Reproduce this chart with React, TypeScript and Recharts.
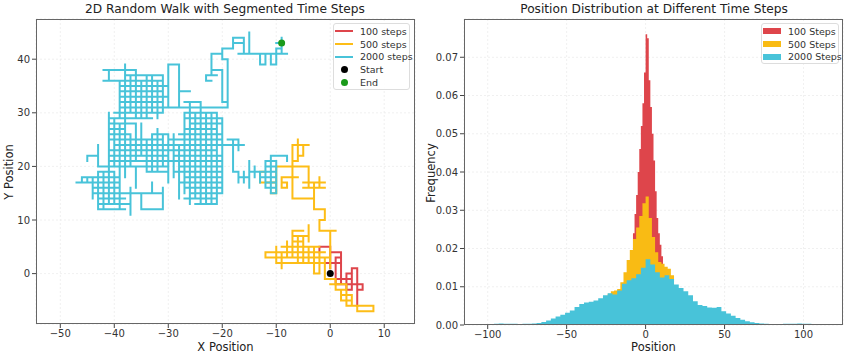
import React from 'react';
import { ComposedChart, Line, Scatter, Area, XAxis, YAxis, CartesianGrid } from 'recharts';

// walk segments: H = [y, x1, x2], V = [x, y1, y2]
type Seg = [number, number, number];

const RED_H: Seg[] = [
    [5, -2, 0], [4, 0, 2], [3, 1, 2], [2, -1, 2], [-1, 1, 4], [-2, 1, 6], [1, 4, 5], [0, 3, 4], [-3, 5, 6], [-3, 3, 4],
];
const RED_V: Seg[] = [
    [-2, 4, 5], [0, 1, 5], [2, -2, 4], [1, -2, 3], [3, -3, 0], [4, -3, 1], [5, -6, 1], [6, -3, -2],
];

const YELLOW_H: Seg[] = [
    [24, -7, -4], [22, -6, -5], [21, -7, -6], [20, -10, -4], [19, -13, -12], [18, -9, -6], [17, -13, -10],
    [17, -9, -8], [16, -9, -8], [17, -5, -1], [16, -5, -1], [15, -11, -10], [14, -7, -3], [12, -3, -1],
    [10, -2, -1], [8, -2, 1], [8, -7, -5], [7, -7, -4], [6, -7, -5], [5, -9, -2], [4, -12, -1], [3, -12, 0],
    [2, -10, -1], [0, -3, -2], [-1, -1, 1], [-2, 0, 3], [-3, 1, 3], [-4, 2, 4], [-5, 2, 4], [-6, 3, 8], [-7, 5, 8],
];
const YELLOW_V: Seg[] = [
    [-6, 21, 25], [-7, 20, 24], [-5, 22, 24], [-4, 16, 20], [-7, 14, 20], [-10, 15, 20], [-13, 17, 19],
    [-9, 16, 18], [-8, 16, 17], [-3, 12, 17], [-2, 16, 18], [-1, 10, 12], [-2, 8, 10], [0, 1, 8], [-4, 6, 9],
    [-12, 3, 4], [-10, 2, 5], [-9, 1, 4], [-8, 3, 6], [-7, 3, 8], [-6, 2, 7], [-5, 2, 7], [-4, 2, 5],
    [-3, 0, 5], [-2, 0, 4], [-1, -1, 3], [1, -3, -1], [2, -5, -3], [3, -6, -2], [4, -6, -4], [5, -7, -6], [8, -7, -6],
];

const CYAN_H: Seg[] = [
    // upper arm
    [40, -20, -19], [42, -20, -18], [44, -18, -16], [43, -18, -16], [41, -17, -8], [39, -13, -12], [39, -11, -10],
    [42, -10, -9], [43, -10, -9], [41, -22, -20], [38, -22, -20], [37, -23, -21], [36, -23, -22], [32, -20, -19],
    [38, -42, -36], [36, -42, -39], [39, -30, -28], [34, -28, -26], [32, -27, -24],
    // upper-left block
    [37, -38, -31], [36, -39, -31], [35, -39, -30], [34, -39, -31], [33, -39, -30], [32, -39, -31], [31, -39, -19],
    [30, -40, -31], [29, -41, -33],
    // middle-left block
    [28, -41, -36], [27, -41, -38], [26, -41, -37], [26, -33, -30], [25, -41, -31], [24, -40, -30], [23, -41, -30],
    [22, -41, -30], [21, -41, -30], [20, -43, -30], [22, -45, -43],
    // right block
    [30, -27, -21], [29, -27, -20], [28, -26, -20], [27, -27, -21], [26, -28, -20], [25, -30, -20], [24, -30, -16],
    [23, -30, -21], [22, -29, -20], [21, -30, -20], [20, -28, -20], [19, -29, -20], [18, -27, -20], [17, -28, -20],
    [16, -27, -20], [15, -26, -20], [14, -27, -21], [13, -25, -21],
    // lower-left block
    [19, -43, -40], [19, -34, -30], [18, -46, -39], [17, -47, -39], [16, -44, -39], [15, -44, -31], [14, -43, -38],
    [13, -43, -37], [12, -43, -38], [12, -35, -31], [20, -39, -38],
    // link towards the 500-step part
    [25, -19, -17], [19, -18, -17], [18, -17, -15], [19, -15, -12], [21, -12, -10], [20, -12, -10], [19, -12, -10],
    [18, -13, -10], [17, -12, -10], [16, -12, -10], [15, -11, -10], [22, -11, -8],
];
const CYAN_V: Seg[] = [
    [-19, 31, 40], [-20, 40, 42], [-18, 42, 44], [-16, 41, 44], [-15, 41, 45], [-13, 39, 41], [-12, 39, 41],
    [-11, 39, 41], [-10, 39, 42], [-9, 41, 44], [-22, 37, 41], [-23, 36, 37], [-20, 32, 38],
    [-38, 37, 39], [-41, 36, 38], [-30, 31, 39], [-28, 31, 39],
    [-39, 29, 36], [-38, 29, 37], [-37, 30, 37], [-36, 29, 38], [-35, 29, 36], [-34, 29, 37], [-33, 30, 37],
    [-32, 29, 36], [-31, 30, 37],
    [-41, 13, 30], [-40, 20, 29], [-39, 20, 28], [-38, 20, 29], [-37, 20, 26], [-36, 21, 28], [-35, 22, 28],
    [-34, 19, 25], [-33, 19, 26], [-32, 19, 27], [-31, 20, 26], [-43, 20, 24], [-45, 21, 22],
    [-30, 17, 26], [-29, 18, 26], [-28, 14, 24], [-27, 15, 30], [-26, 13, 32], [-25, 14, 30], [-24, 13, 32],
    [-23, 13, 30], [-22, 13, 30], [-21, 13, 30], [-20, 15, 29],
    [-46, 17, 18], [-45, 17, 18], [-44, 14, 18], [-43, 12, 19], [-42, 12, 19], [-40, 13, 19], [-39, 12, 20],
    [-38, 18, 20], [-37, 11, 16], [-35, 12, 15], [-31, 12, 16], [-33, 15, 17], [-36, 16, 20],
    [-18, 19, 25], [-17, 23, 25], [-17, 17, 19], [-16, 17, 19], [-15, 16, 21], [-14, 18, 20], [-13, 17, 19],
    [-12, 16, 21], [-11, 15, 22], [-10, 15, 21], [-8, 21, 22],
];

const START = [{ x: 0, y: 0 }];
const END = [{ x: -9, y: 43 }];

// histogram heights (density), left bin edge + width
const RED_START = -10, RED_WIDTH = 1;
const RED_FREQ = [0.014, 0.018, 0.024, 0.029, 0.034, 0.040, 0.046, 0.052, 0.058, 0.066, 0.076,
    0.075, 0.064, 0.057, 0.050, 0.043, 0.035, 0.028, 0.024, 0.021, 0.018];

const YELLOW_START = -24, YELLOW_WIDTH = 2;
const YELLOW_FREQ = [0.0082, 0.0088, 0.0090, 0.0094, 0.0112, 0.0138, 0.0170, 0.0196, 0.0225, 0.0255, 0.0285,
    0.0318, 0.0336, 0.0280, 0.0230, 0.0190, 0.0165, 0.0160, 0.0152, 0.0147, 0.0130];

const CYAN_START = -102, CYAN_WIDTH = 3;
const CYAN_FREQ = [
    0.0001, 0.0002, 0.0003, 0.0004, 0.0003, 0.0003, 0.0003, 0.0002, 0.0003, 0.0003, 0.0004, 0.0005,
    0.0008, 0.0012, 0.0017, 0.0022, 0.0027, 0.0032, 0.0038, 0.0047, 0.0055, 0.0059, 0.0061, 0.0064,
    0.0070, 0.0078, 0.0083, 0.0080, 0.0090, 0.0108, 0.0117, 0.0122, 0.0133, 0.0150, 0.0172, 0.0158,
    0.0138, 0.0124, 0.0130, 0.0120, 0.0106, 0.0097, 0.0088, 0.0078, 0.0062, 0.0052, 0.0050, 0.0046,
    0.0045, 0.0047, 0.0036, 0.0030, 0.0024, 0.0018, 0.0014, 0.0010, 0.0007, 0.0005, 0.0004, 0.0003,
    0.0002, 0.0002, 0.0002, 0.0003, 0.0003, 0.0003, 0.0004, 0.0003, 0.0003, 0.0002, 0.0002, 0.0001,
];

const WALK_X_TICKS = [-50, -40, -30, -20, -10, 0, 10];
const WALK_Y_TICKS = [0, 10, 20, 30, 40];
const HIST_X_TICKS = [-100, -50, 0, 50, 100];
const HIST_Y_TICKS = [0, 0.01, 0.02, 0.03, 0.04, 0.05, 0.06, 0.07];

const RED = '#de454b';
const YELLOW = '#fdbd17';
const HIST_YELLOW = '#f9bb14';
const CYAN = '#48c3d9';
const GREEN = '#1a9a1a';
const FONT = '"DejaVu Sans", sans-serif';

function toPath(h: Seg[], v: Seg[]) {
    const pts: { x: number; y: number | null }[] = [];
    h.forEach(([y, x1, x2]) => pts.push({ x: x1, y }, { x: x2, y }, { x: x2, y: null }));
    v.forEach(([x, y1, y2]) => pts.push({ x, y: y1 }, { x, y: y2 }, { x, y: null }));
    return pts;
}

function toSteps(start: number, width: number, freq: number[]) {
    const rows = freq.map((v, i) => ({ x: start + i * width, v }));
    rows.push({ x: start + freq.length * width, v: freq[freq.length - 1] });
    return rows;
}

const minus = (v: number) => String(v).replace('-', '\u2212');
const tickStyle = { fontSize: 10, fill: '#333', fontFamily: FONT };

const abs = (left: number, top: number, extra: React.CSSProperties = {}): React.CSSProperties => ({
    position: 'absolute', left, top, fontFamily: FONT, color: '#222', ...extra,
});

function WalkChart() {
    return (
        <ComposedChart width={423} height={357} margin={{ top: 19, right: 8, bottom: 0, left: 0 }}>
            <CartesianGrid stroke="#ececec" strokeDasharray="2 2" strokeWidth={0.8} />
            <XAxis type="number" dataKey="x" domain={[-54.5, 15.7]} ticks={WALK_X_TICKS} allowDataOverflow
                height={33} axisLine={false} tickSize={4} tickLine={{ stroke: '#444' }} tick={tickStyle}
                tickFormatter={minus} />
            <YAxis type="number" domain={[-9.4, 47.5]} ticks={WALK_Y_TICKS} allowDataOverflow width={36}
                axisLine={false} tickSize={4} tickLine={{ stroke: '#444' }} tick={tickStyle} tickFormatter={minus} />
            <Line data={toPath(RED_H, RED_V)} dataKey="y" stroke={RED} strokeWidth={2} strokeLinecap="square"
                dot={false} connectNulls={false} isAnimationActive={false} />
            <Line data={toPath(YELLOW_H, YELLOW_V)} dataKey="y" stroke={YELLOW} strokeWidth={2} strokeLinecap="square"
                dot={false} connectNulls={false} isAnimationActive={false} />
            <Line data={toPath(CYAN_H, CYAN_V)} dataKey="y" stroke={CYAN} strokeWidth={2} strokeLinecap="square"
                dot={false} connectNulls={false} isAnimationActive={false} />
            <Scatter data={START} dataKey="y" isAnimationActive={false}
                shape={(p: any) => <circle cx={p.cx} cy={p.cy} r={3.5} fill="#000" />} />
            <Scatter data={END} dataKey="y" isAnimationActive={false}
                shape={(p: any) => <circle cx={p.cx} cy={p.cy} r={3.5} fill={GREEN} />} />
        </ComposedChart>
    );
}

function HistChart() {
    return (
        <ComposedChart width={424} height={357} margin={{ top: 19, right: 4, bottom: 0, left: 0 }}>
            <CartesianGrid stroke="#ececec" strokeDasharray="2 2" strokeWidth={0.8} />
            <XAxis type="number" dataKey="x" domain={[-115, 125]} ticks={HIST_X_TICKS} allowDataOverflow
                height={32} axisLine={false} tickSize={4} tickLine={{ stroke: '#444' }} tick={tickStyle}
                tickFormatter={minus} />
            <YAxis type="number" domain={[0, 0.08]} ticks={HIST_Y_TICKS} allowDataOverflow width={41}
                axisLine={false} tickSize={4} tickLine={{ stroke: '#444' }} tick={tickStyle}
                tickFormatter={(v: number) => v.toFixed(2)} />
            <Area data={toSteps(RED_START, RED_WIDTH, RED_FREQ)} dataKey="v" type="stepAfter" stroke="none"
                fill={RED} fillOpacity={1} isAnimationActive={false} />
            <Area data={toSteps(YELLOW_START, YELLOW_WIDTH, YELLOW_FREQ)} dataKey="v" type="stepAfter" stroke="none"
                fill={HIST_YELLOW} fillOpacity={1} isAnimationActive={false} />
            <Area data={toSteps(CYAN_START, CYAN_WIDTH, CYAN_FREQ)} dataKey="v" type="stepAfter" stroke="none"
                fill={CYAN} fillOpacity={1} isAnimationActive={false} />
        </ComposedChart>
    );
}

function LegendRow({ mark, label }: { mark: React.ReactNode; label: string }) {
    return (
        <div style={{ display: 'flex', alignItems: 'center', height: 12.8, whiteSpace: 'nowrap' }}>
            <div style={{ width: 18, display: 'flex', justifyContent: 'center', marginRight: 7, flexShrink: 0 }}>{mark}</div>
            <span style={{ fontSize: 9.5, color: '#333' }}>{label}</span>
        </div>
    );
}

const lineMark = (c: string) => <div style={{ width: 18, height: 2, background: c }} />;
const dotMark = (c: string) => <div style={{ width: 7, height: 7, borderRadius: 4, background: c }} />;
const patchMark = (c: string) => <div style={{ width: 18, height: 6, background: c }} />;

const legendBox: React.CSSProperties = {
    border: '1px solid #ddd', borderRadius: 3, background: 'rgba(255,255,255,0.85)',
    boxSizing: 'border-box', padding: '1px 0 0 1px',
};

export default function App() {
    return (
        <div style={{ position: 'absolute', left: 0, top: 0, width: 847, height: 357, background: '#fff', fontFamily: FONT }}>
            <div style={abs(0, 0)}><WalkChart /></div>
            <div style={abs(423, 0)}><HistChart /></div>

            {/* plot frames */}
            <div style={abs(36, 19, { width: 379, height: 305, border: '1px solid #666', boxSizing: 'border-box' })} />
            <div style={abs(464, 19, { width: 379, height: 306, border: '1px solid #666', boxSizing: 'border-box' })} />

            {/* titles and axis labels */}
            <div style={abs(0, 2, { width: 450, textAlign: 'center', fontSize: 12.2 })}>2D Random Walk with Segmented Time Steps</div>
            <div style={abs(454, 2, { width: 400, textAlign: 'center', fontSize: 12.2 })}>Position Distribution at Different Time Steps</div>
            <div style={abs(36, 340, { width: 379, textAlign: 'center', fontSize: 11.5 })}>X Position</div>
            <div style={abs(464, 340, { width: 379, textAlign: 'center', fontSize: 11.5 })}>Position</div>
            <div style={abs(-51, 165, { width: 120, textAlign: 'center', fontSize: 11.5, transform: 'rotate(-90deg)' })}>Y Position</div>
            <div style={abs(371, 166, { width: 120, textAlign: 'center', fontSize: 11.5, transform: 'rotate(-90deg)' })}>Frequency</div>

            {/* legends */}
            <div style={abs(333, 23, { width: 77, height: 67, ...legendBox })}>
                <LegendRow mark={lineMark(RED)} label="100 steps" />
                <LegendRow mark={lineMark(YELLOW)} label="500 steps" />
                <LegendRow mark={lineMark(CYAN)} label="2000 steps" />
                <LegendRow mark={dotMark('#000')} label="Start" />
                <LegendRow mark={dotMark(GREEN)} label="End" />
            </div>
            <div style={abs(761, 23, { width: 78, height: 41, ...legendBox })}>
                <LegendRow mark={patchMark(RED)} label="100 Steps" />
                <LegendRow mark={patchMark(HIST_YELLOW)} label="500 Steps" />
                <LegendRow mark={patchMark(CYAN)} label="2000 Steps" />
            </div>
        </div>
    );
}
